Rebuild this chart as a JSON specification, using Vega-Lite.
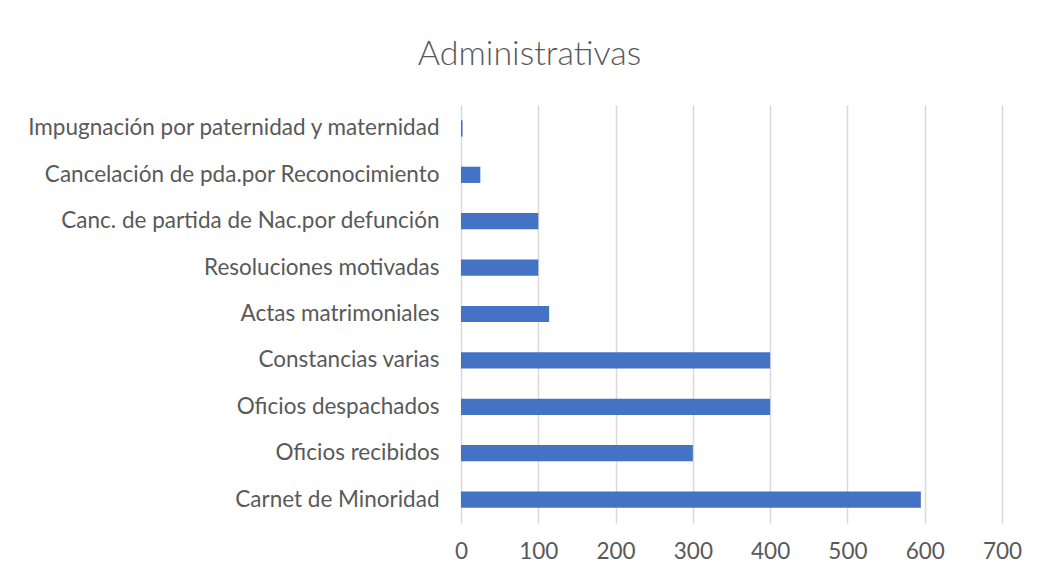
{
  "$schema": "https://vega.github.io/schema/vega-lite/v6.json",
  "autosize": {"type": "none"},
  "width": 541,
  "height": 418,
  "padding": {"left": 461, "top": 105, "right": 35, "bottom": 57},
  "background": "white",
  "title": {
    "text": "Administrativas",
    "font": "Lato",
    "fontSize": 34,
    "fontWeight": 300,
    "color": "#595959",
    "anchor": "middle",
    "dx": -202,
    "offset": 33
  },
  "data": {
    "values": [
      {"categoria": "Impugnación por paternidad y maternidad", "valor": 2},
      {"categoria": "Cancelación de pda.por Reconocimiento", "valor": 25},
      {"categoria": "Canc. de partida de Nac.por defunción", "valor": 100},
      {"categoria": "Resoluciones motivadas", "valor": 100},
      {"categoria": "Actas matrimoniales", "valor": 114},
      {"categoria": "Constancias varias", "valor": 400},
      {"categoria": "Oficios despachados", "valor": 400},
      {"categoria": "Oficios recibidos", "valor": 300},
      {"categoria": "Carnet de Minoridad", "valor": 595}
    ]
  },
  "mark": {"type": "bar", "color": "#4472C4"},
  "encoding": {
    "y": {
      "field": "categoria",
      "type": "nominal",
      "sort": null,
      "scale": {"paddingInner": 0.65, "paddingOuter": 0.33},
      "axis": {
        "title": null,
        "domain": false,
        "ticks": false,
        "labelPadding": 22,
        "labelFont": "Lato",
        "labelFontSize": 22.5,
        "labelColor": "#595959",
        "labelLimit": 600
      }
    },
    "x": {
      "field": "valor",
      "type": "quantitative",
      "scale": {"domain": [0, 700], "nice": false},
      "axis": {
        "title": null,
        "values": [0, 100, 200, 300, 400, 500, 600, 700],
        "domain": false,
        "ticks": false,
        "grid": true,
        "gridColor": "#d9d9d9",
        "gridWidth": 1.5,
        "labelFlush": false,
        "labelPadding": 17,
        "labelFont": "Lato",
        "labelFontSize": 22.5,
        "labelColor": "#595959"
      }
    }
  },
  "config": {"view": {"stroke": null}}
}
